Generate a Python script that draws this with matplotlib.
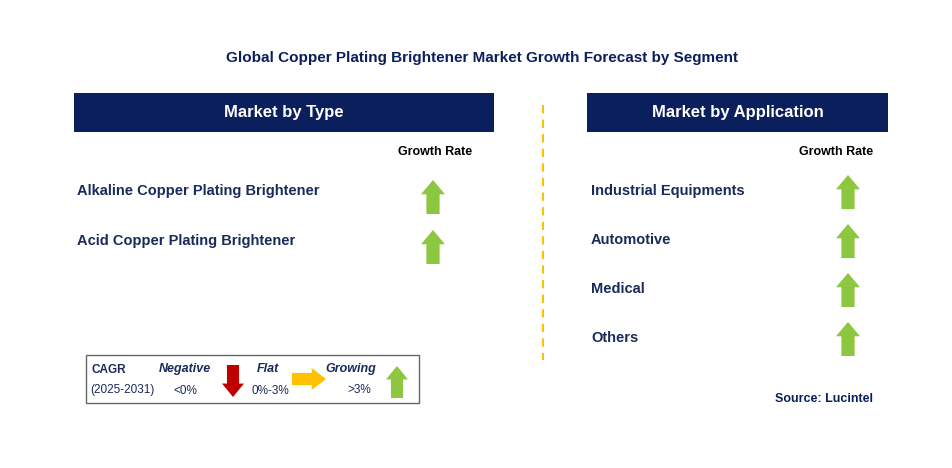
import matplotlib.pyplot as plt
from matplotlib.patches import Polygon, Rectangle

plt.rcParams['font.family'] = 'Liberation Sans'

title = 'Global Copper Plating Brightener Market Growth Forecast by Segment'
type_segments = ['Alkaline Copper Plating Brightener', 'Acid Copper Plating Brightener']
type_growth = ['up', 'up']
app_segments = ['Industrial Equipments', 'Automotive', 'Medical', 'Others']
app_growth = ['up', 'up', 'up', 'up']

NAVY = '#0b1f5c'
TEXT = '#1a2a5a'
GREEN = '#8dc63f'
RED = '#c00000'
ORANGE = '#ffc000'


def arrow(ax, cx, cy, kind, w=24, h=34):
    # cx, cy = arrow centre in pixel coords (y down)
    bw = w * 0.55
    if kind == 'up':
        pts = [(cx, cy - h/2), (cx + w/2, cy - h/2 + h*0.42), (cx + bw/2, cy - h/2 + h*0.42),
               (cx + bw/2, cy + h/2), (cx - bw/2, cy + h/2), (cx - bw/2, cy - h/2 + h*0.42),
               (cx - w/2, cy - h/2 + h*0.42)]
        c = GREEN
    elif kind == 'down':
        pts = [(cx, cy + h/2), (cx + w/2, cy + h/2 - h*0.42), (cx + bw/2, cy + h/2 - h*0.42),
               (cx + bw/2, cy - h/2), (cx - bw/2, cy - h/2), (cx - bw/2, cy + h/2 - h*0.42),
               (cx - w/2, cy + h/2 - h*0.42)]
        c = RED
    else:
        L, H = h, w
        bh = H * 0.55
        pts = [(cx + L/2, cy), (cx + L/2 - L*0.42, cy - H/2), (cx + L/2 - L*0.42, cy - bh/2),
               (cx - L/2, cy - bh/2), (cx - L/2, cy + bh/2), (cx + L/2 - L*0.42, cy + bh/2),
               (cx + L/2 - L*0.42, cy + H/2)]
        c = ORANGE
    ax.add_patch(Polygon(pts, closed=True, facecolor=c, edgecolor='none'))


fig = plt.figure(figsize=(9.52, 4.68), dpi=100, facecolor='white')
ax = fig.add_axes([0, 0, 1, 1])
ax.set_xlim(0, 952)
ax.set_ylim(468, 0)
ax.axis('off')

ax.text(482, 58, title, ha='center', va='center', fontsize=11, fontweight='bold', color=NAVY)

for x0, x1, label in [(74, 494, 'Market by Type'), (587, 888, 'Market by Application')]:
    ax.add_patch(Rectangle((x0, 93), x1 - x0, 39, facecolor=NAVY, edgecolor='none'))
    ax.text((x0 + x1) / 2, 112, label, ha='center', va='center', fontsize=12,
            fontweight='bold', color='white')

ax.text(435, 152, 'Growth Rate', ha='center', va='center', fontsize=9, fontweight='bold', color='black')
ax.text(836, 152, 'Growth Rate', ha='center', va='center', fontsize=9, fontweight='bold', color='black')

for i, (seg, g) in enumerate(zip(type_segments, type_growth)):
    y = 191 + i * 50
    ax.text(77, y, seg, ha='left', va='center', fontsize=10.5, fontweight='bold', color=TEXT)
    arrow(ax, 433, y + 6, g)

for i, (seg, g) in enumerate(zip(app_segments, app_growth)):
    y = 191 + i * 49
    ax.text(591, y, seg, ha='left', va='center', fontsize=10.5, fontweight='bold', color=TEXT)
    arrow(ax, 848, y + 1, g)

ax.plot([543, 543], [105, 360], ls=(0, (4, 3)), color=ORANGE, lw=1.5)

ax.add_patch(Rectangle((86, 355), 333, 48, facecolor='white', edgecolor='#666666', lw=1))
ax.text(92, 370, 'CAGR', ha='left', va='center', fontsize=8.5, fontweight='bold', color=TEXT)
ax.text(90, 390, '(2025-2031)', ha='left', va='center', fontsize=8.5, color=TEXT)
ax.text(185, 369, 'Negative', ha='center', va='center', fontsize=9, fontweight='bold', style='italic', color=TEXT)
ax.text(185, 391, '<0%', ha='center', va='center', fontsize=8.5, color=TEXT)
arrow(ax, 233, 381, 'down', w=22, h=32)
ax.text(268, 369, 'Flat', ha='center', va='center', fontsize=9, fontweight='bold', style='italic', color=TEXT)
ax.text(270, 391, '0%-3%', ha='center', va='center', fontsize=8.5, color=TEXT)
arrow(ax, 309, 379, 'right', w=22, h=34)
ax.text(351, 369, 'Growing', ha='center', va='center', fontsize=9, fontweight='bold', style='italic', color=TEXT)
ax.text(359, 390, '>3%', ha='center', va='center', fontsize=8.5, color=TEXT)
arrow(ax, 397, 382, 'up', w=22, h=32)

ax.text(873, 399, 'Source: Lucintel', ha='right', va='center', fontsize=9, fontweight='bold', color=NAVY)

fig.savefig('out.png', dpi=100, facecolor='white')
